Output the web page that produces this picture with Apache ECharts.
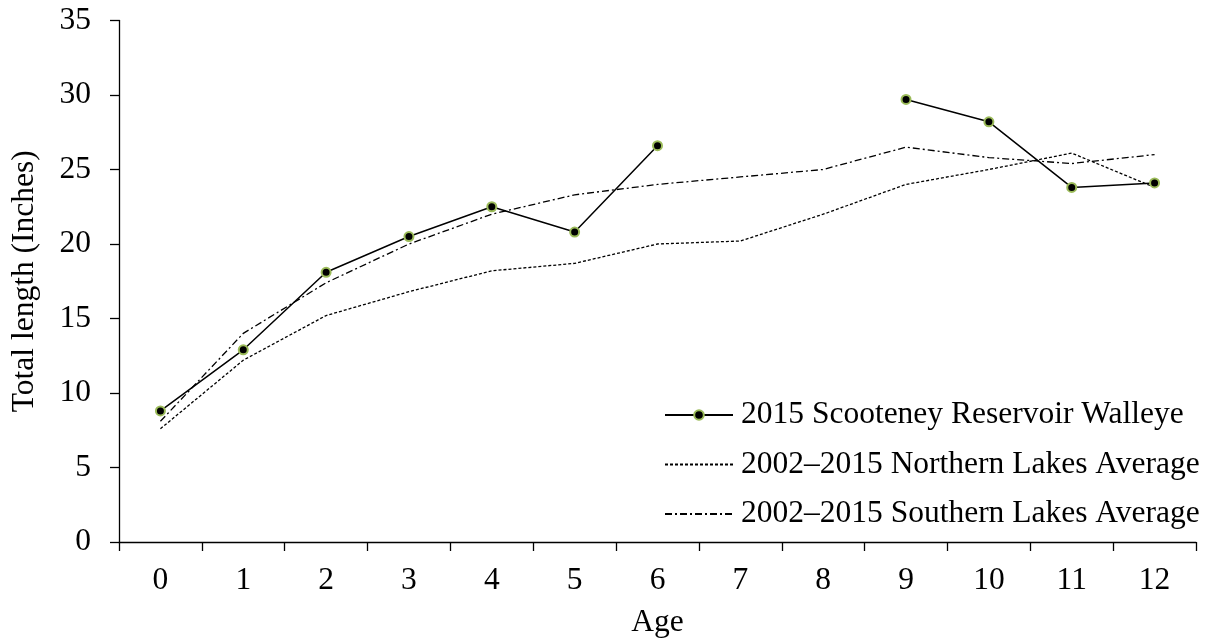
<!DOCTYPE html>
<html>
<head>
<meta charset="utf-8">
<title>Walleye length at age</title>
<script src="https://cdn.jsdelivr.net/npm/echarts@6/dist/echarts.min.js"></script>
<style>
  html, body { margin: 0; padding: 0; background: #fff; }
  #chart { width: 1211px; height: 644px; }
</style>
</head>
<body>
<div id="chart"></div>
<script>
// ages on the x axis
var ages = ['0', '1', '2', '3', '4', '5', '6', '7', '8', '9', '10', '11', '12'];
// 2015 Scooteney Reservoir walleye (no fish at age 7 and 8)
var scooteney = [8.8, 12.9, 18.1, 20.5, 22.5, 20.8, 26.6, null, null, 29.7, 28.2, 23.8, 24.1];
// 2002-2015 northern lakes average
var northern = [7.6, 12.2, 15.2, 16.8, 18.2, 18.7, 20.0, 20.2, 22.0, 24.0, 25.0, 26.1, 23.8];
// 2002-2015 southern lakes average
var southern = [8.1, 14.0, 17.4, 20.0, 22.0, 23.3, 24.0, 24.5, 25.0, 26.5, 25.8, 25.4, 26.0];

var seriesNames = ['2015 Scooteney Reservoir Walleye', '2002\u20132015 Northern Lakes Average', '2002\u20132015 Southern Lakes Average'];

var font = 'Liberation Serif';
var fs = 31.5;
var chart = echarts.init(document.getElementById('chart'));

var option = {
    animation: false,
    backgroundColor: '#fff',
    textStyle: { fontFamily: font, color: '#000' },
    grid: { left: 119, right: 15, top: 20.5, bottom: 100.5 },
    legend: {
        orient: 'vertical',
        left: 659,
        top: 394,
        itemWidth: 68,
        itemHeight: 12,
        itemGap: 17.5,
        textStyle: { fontFamily: font, fontSize: fs, color: '#000', lineHeight: 31.5, padding: [0, 0, 0, 3] },
        data: [
            { name: seriesNames[0] },
            // average lines: line only in the legend, no dot
            { name: seriesNames[1], itemStyle: { opacity: 0 } },
            { name: seriesNames[2], itemStyle: { opacity: 0 } }
        ]
    },
    xAxis: {
        type: 'category',
        data: ages,
        name: 'Age',
        nameLocation: 'middle',
        nameGap: 65,
        nameTextStyle: { fontFamily: font, fontSize: fs, color: '#000' },
        axisLine: { show: true, lineStyle: { color: '#000', width: 1.3 } },
        axisTick: { show: true, length: 9, lineStyle: { color: '#000', width: 1.3 } },
        axisLabel: { fontFamily: font, fontSize: fs, color: '#000', margin: 23 },
        splitLine: { show: false }
    },
    yAxis: {
        type: 'value',
        min: 0,
        max: 35,
        interval: 5,
        name: 'Total length (Inches)',
        nameLocation: 'middle',
        nameGap: 78,
        nameTextStyle: { fontFamily: font, fontSize: fs, color: '#000' },
        axisLine: { show: true, lineStyle: { color: '#000', width: 1.3 } },
        axisTick: { show: true, length: 9, lineStyle: { color: '#000', width: 1.3 } },
        axisLabel: { fontFamily: font, fontSize: fs, color: '#000', margin: 28 },
        splitLine: { show: false }
    },
    series: [
        {
            name: seriesNames[0],
            type: 'line',
            data: scooteney,
            connectNulls: false,
            symbol: 'circle',
            symbolSize: 9,
            lineStyle: { color: '#000', width: 1.5 },
            itemStyle: { color: '#000', borderColor: '#9bbb59', borderWidth: 2 },
            z: 3
        },
        {
            name: seriesNames[1],
            type: 'line',
            data: northern,
            symbol: 'none',
            lineStyle: { color: '#000', width: 1.3, type: [3, 2] },
            itemStyle: { color: '#000' }
        },
        {
            name: seriesNames[2],
            type: 'line',
            data: southern,
            symbol: 'none',
            lineStyle: { color: '#000', width: 1.3, type: [7, 3, 2, 3] },
            itemStyle: { color: '#000' }
        }
    ]
};

chart.setOption(option);
</script>
</body>
</html>
